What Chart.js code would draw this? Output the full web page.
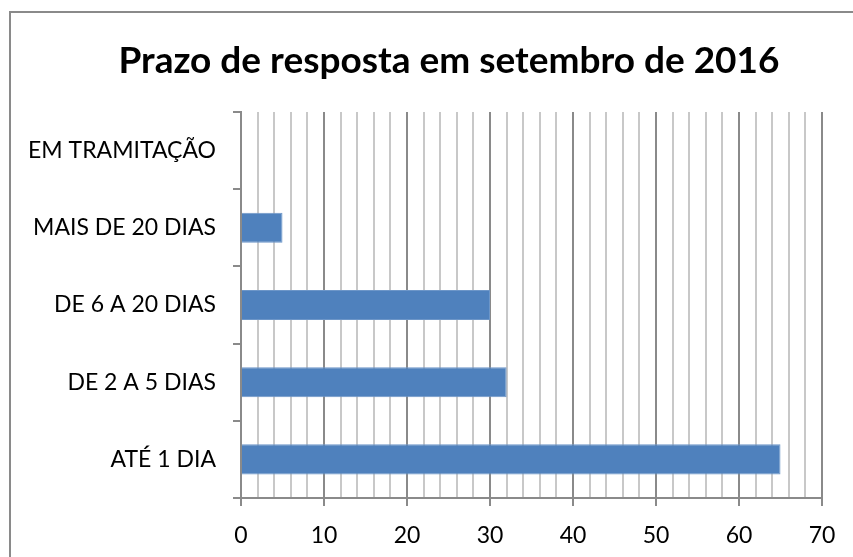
<!DOCTYPE html>
<html>
<head>
<meta charset="utf-8">
<script src="https://cdn.jsdelivr.net/npm/chart.js@4"></script>
<style>
  html, body { margin: 0; padding: 0; background: #fff; overflow: hidden; }
  #wrap { position: relative; width: 853px; height: 557px; }
  #frame {
    position: absolute; left: 9px; top: 11px; width: 900px; height: 600px;
    border-left: 2px solid #8a8a8a; border-top: 2px solid #8a8a8a;
    pointer-events: none;
  }
</style>
</head>
<body>
<div id="wrap">
  <canvas id="chart" width="853" height="557"></canvas>
  <div id="frame"></div>
</div>
<script>
const categories = ['EM TRAMITAÇÃO', 'MAIS DE 20 DIAS', 'DE 6 A 20 DIAS', 'DE 2 A 5 DIAS', 'ATÉ 1 DIA'];
const respostas = [0, 5, 30, 32, 65];
const xTicks = [0, 10, 20, 30, 40, 50, 60, 70];
const chartTitle = 'Prazo de resposta em setembro de 2016';

const FONT = 'Lato, "Open Sans", sans-serif';

// title is centred on the whole frame (which runs past the right edge), not on the canvas
const frameTitle = {
  id: 'frameTitle',
  afterDraw(chart) {
    const ctx = chart.ctx;
    ctx.save();
    ctx.font = `bold 37px ${FONT}`;
    ctx.fillStyle = '#000';
    ctx.textAlign = 'center';
    ctx.textBaseline = 'alphabetic';
    ctx.fillText(chartTitle, 449, 73);
    ctx.restore();
  }
};

new Chart(document.getElementById('chart').getContext('2d'), {
  type: 'bar',
  data: {
    labels: categories,
    datasets: [{
      label: 'Prazo de resposta',
      data: respostas,
      backgroundColor: '#4F81BD',
      borderColor: '#6d96c8',
      borderWidth: 1,
      barPercentage: 0.39,
      categoryPercentage: 1
    }]
  },
  options: {
    indexAxis: 'y',
    responsive: false,
    animation: false,
    layout: { padding: { left: 9, right: 31, top: 112, bottom: 0 } },
    plugins: {
      legend: { display: false },
      tooltip: { enabled: false },
      title: { display: false }
    },
    scales: {
      x: {
        min: 0,
        max: 70,
        ticks: {
          stepSize: 2,
          autoSkip: false,
          maxRotation: 0,
          color: '#000',
          padding: 16,
          font: { family: FONT, size: 23 },
          callback: (v) => xTicks.includes(v) ? String(v) : ''
        },
        grid: {
          color: (ctx) => xTicks.includes(ctx.tick.value) ? '#8a8a8a' : '#c8c8c8',
          tickColor: (ctx) => xTicks.includes(ctx.tick.value) ? '#8a8a8a' : 'rgba(0,0,0,0)',
          lineWidth: 2,
          tickLength: 8
        },
        border: { color: '#8a8a8a', width: 2 },
        afterFit: (scale) => { scale.height = 59; }
      },
      y: {
        ticks: {
          color: '#000',
          padding: 17,
          font: { family: FONT, size: 23 }
        },
        grid: {
          drawOnChartArea: false,
          drawTicks: true,
          tickLength: 8,
          color: '#8a8a8a',
          lineWidth: 2
        },
        border: { color: '#8a8a8a', width: 2 },
        afterFit: (scale) => { scale.width = 232; }
      }
    }
  },
  plugins: [frameTitle]
});
</script>
</body>
</html>
